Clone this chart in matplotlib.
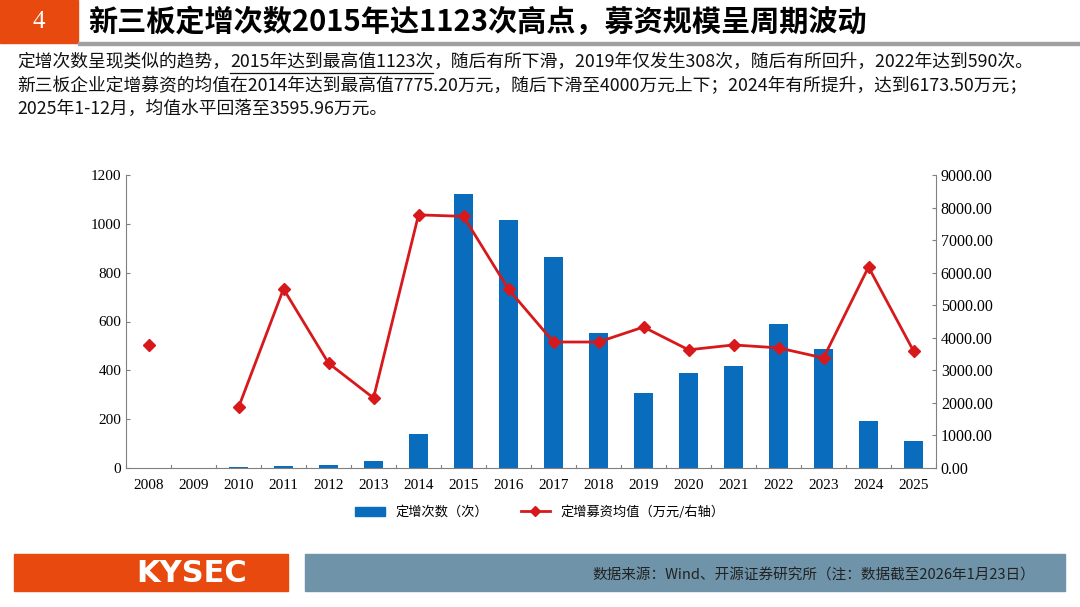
import numpy as np
import matplotlib
matplotlib.use('Agg')
import matplotlib.pyplot as plt
from matplotlib.patches import Rectangle
from matplotlib.lines import Line2D

plt.rcParams['font.family'] = ['Noto Sans CJK SC', 'DejaVu Sans']

# 数据
years = ['2008', '2009', '2010', '2011', '2012', '2013', '2014', '2015', '2016',
         '2017', '2018', '2019', '2020', '2021', '2022', '2023', '2024', '2025']
counts = [2, 0, 5, 8, 12, 27, 138, 1123, 1014, 865, 553, 308, 391, 416, 590, 488, 194, 109]
avg_raise = [3780, np.nan, 1860, 5500, 3220, 2150, 7775.20, 7730, 5490,
             3870, 3870, 4330, 3630, 3780, 3690, 3380, 6173.50, 3595.96]
left_ticks = [0, 200, 400, 600, 800, 1000, 1200]
right_ticks = [0, 1000, 2000, 3000, 4000, 5000, 6000, 7000, 8000, 9000]

title = '新三板定增次数2015年达1123次高点，募资规模呈周期波动'
line1 = ['定增次数呈现类似的趋势，', '2015年达到最高值1123次', '，随后有所下滑，2019年仅发生308次，随后有所回升，2022年达到590次。']
line2 = '新三板企业定增募资的均值在2014年达到最高值7775.20万元，随后下滑至4000万元上下；2024年有所提升，达到6173.50万元；'
line3 = '2025年1-12月，均值水平回落至3595.96万元。'
source = '数据来源：Wind、开源证券研究所（注：数据截至2026年1月23日）'

W, H = 1080, 607
fig = plt.figure(figsize=(W / 100, H / 100), dpi=100)
fig.patch.set_facecolor('white')
renderer = fig.canvas.get_renderer()

def px(x0, y0, w, h):
    # 像素 -> figure 坐标
    return [x0 / W, 1 - (y0 + h) / H, w / W, h / H]

# 顶部标题栏
bg = fig.add_axes([0, 0, 1, 1])
bg.set_xlim(0, W)
bg.set_ylim(H, 0)
bg.axis('off')
bg.add_patch(Rectangle((0, 0), 78, 43, color='#e8490f'))
bg.text(39, 22, '4', color='white', fontsize=18, ha='center', va='center',
        family=['Liberation Serif'])
bg.text(88, 22, title, color='black', fontsize=21, fontweight='bold', ha='left', va='center')
bg.add_patch(Rectangle((78, 42), W - 78, 3, color='#a0a0a0'))

body_kw = dict(fontsize=12.8, va='center', color='#111111')
# 第一行分三段，中间一段加下划线
xcur = 17
for i, seg in enumerate(line1):
    t = bg.text(xcur, 62, seg, ha='left', **body_kw)
    bb = t.get_window_extent(renderer)
    if i == 1:
        bg.plot([xcur, xcur + bb.width], [73, 73], color='#111111', lw=0.9)
    xcur += bb.width
bg.text(17, 86, line2, ha='left', **body_kw)
bg.text(17, 109, line3, ha='left', **body_kw)

# 底部
bg.add_patch(Rectangle((14, 554), 274, 37, color='#e8490f'))
bg.text(192, 573, 'KYSEC', color='white', fontsize=22, fontweight='bold',
        ha='center', va='center', family=['DejaVu Sans'])
bg.add_patch(Rectangle((305, 554), 760, 37, color='#6f93a8'))
bg.text(1035, 576, source, fontsize=10.5, ha='right', va='center', color='#222222')

# 主图
ax = fig.add_axes(px(126, 175, 810, 293))
x = np.arange(len(years))
ax.bar(x, counts, width=0.42, color='#0a6cbd', zorder=2)
ax.set_xlim(-0.5, len(years) - 0.5)
ax.set_ylim(0, 1200)
ax.set_yticks(left_ticks)
ax.set_xticks(x)
ax.set_xticklabels(years)
for sp in ['top', 'right']:
    ax.spines[sp].set_visible(False)
ax.spines['left'].set_color('#808080')
ax.spines['bottom'].set_color('#808080')
ax.tick_params(axis='y', length=3, direction='in', color='#808080', labelsize=11)
ax.tick_params(axis='x', length=0, pad=8, labelsize=11)
for xt in np.arange(-0.5, len(years), 1.0):
    ax.plot([xt, xt], [0, 12], color='#808080', lw=0.8, clip_on=False)
for lab in ax.get_xticklabels() + ax.get_yticklabels():
    lab.set_family('Liberation Serif')

ax2 = ax.twinx()
ax2.plot(x, avg_raise, color='#d7191c', lw=2, marker='D', markersize=6, zorder=3)
ax2.set_ylim(0, 9000)
ax2.set_yticks(right_ticks)
ax2.set_yticklabels([f'{v:.2f}' for v in right_ticks])
for sp in ['top', 'left', 'bottom']:
    ax2.spines[sp].set_visible(False)
ax2.spines['right'].set_color('#808080')
ax2.tick_params(axis='y', length=3, direction='in', color='#808080', labelsize=11.5)
for lab in ax2.get_yticklabels():
    lab.set_family('Liberation Serif')

handles = [Rectangle((0, 0), 1, 1, color='#0a6cbd'),
           Line2D([], [], color='#d7191c', lw=2, marker='D', markersize=5)]
fig.legend(handles, ['定增次数（次）', '定增募资均值（万元/右轴）'],
           loc='center', bbox_to_anchor=(540 / W, 1 - 512 / H), ncol=2, frameon=False,
           fontsize=9.5, handlelength=2.2, columnspacing=2.5)

fig.savefig('out.png', dpi=100)
